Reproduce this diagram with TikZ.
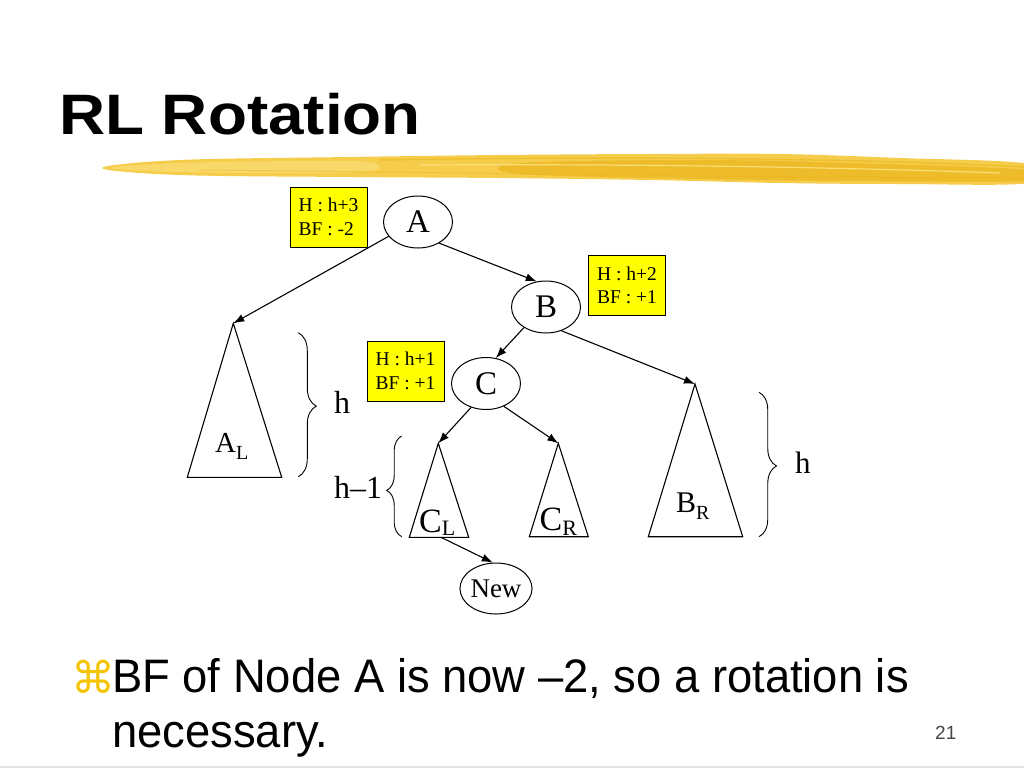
\documentclass[tikz,border=0pt]{standalone}
\usepackage{fontspec}
\setmainfont{Liberation Serif}
\newfontfamily\titlefont[FakeStretch=1.12]{Liberation Sans}
\newfontfamily\bodyfont[FakeStretch=0.965]{Liberation Sans}
\newfontfamily\pagefont{Liberation Sans}
\newfontfamily\symfont{DejaVu Sans}
\usetikzlibrary{arrows.meta,decorations.pathreplacing,shapes.geometric}

\definecolor{boxyellow}{RGB}{255,255,0}
\definecolor{brushA}{RGB}{245,205,75}
\definecolor{brushB}{RGB}{236,182,28}
\definecolor{brushC}{RGB}{250,224,125}
\definecolor{bulletgold}{RGB}{245,196,0}
\definecolor{pagegray}{RGB}{70,70,70}

\newcommand\fs[1]{\fontsize{#1}{#1}\selectfont}

\tikzset{
  tnode/.style={ellipse, draw, line width=1pt, minimum width=69pt, minimum height=52pt, inner sep=0pt, font=\fs{33}},
  infobox/.style={draw, fill=boxyellow, line width=0.9pt, minimum width=77pt, minimum height=60pt, inner sep=0pt, align=left, font=\fontsize{19.5}{23.5}\selectfont},
  arr/.style={-{Latex[length=11pt,width=8pt]}, line width=1.1pt},
  tri/.style={line width=1.1pt, line join=miter},
  hbrace/.style={decorate, line width=0.9pt},
  lbl/.style={inner sep=0pt, anchor=base west}
}

\begin{document}
\begin{tikzpicture}[x=1pt,y=-1pt]
\useasboundingbox (0,0) rectangle (1024,768);
\fill[white] (0,0) rectangle (1024,768);

% title
\node[lbl, font=\titlefont\bfseries\fs{57}] (title) at (59,134) {RL Rotation};

% brush stroke
\fill[brushA] plot[smooth cycle, tension=0.6] coordinates {
  (102,168) (180,160) (350,157) (500,155) (650,154) (780,154) (900,158) (1030,164)
  (1030,183) (900,184) (780,183) (650,180) (500,178) (350,177) (180,175) };
\fill[brushC, opacity=0.6] plot[smooth cycle, tension=0.6] coordinates {
  (110,168) (180,163) (300,161) (370,162) (372,171) (300,173) (180,172) };
\fill[brushB, opacity=0.7] plot[smooth cycle, tension=0.6] coordinates {
  (520,163) (700,160) (850,163) (1030,170) (1030,181) (850,181) (700,179) (520,174) };
\draw[brushB, opacity=0.6, line width=1.5pt] (380,160) .. controls (600,156) and (850,158) .. (1024,167);
\draw[brushB, opacity=0.5, line width=1pt] (200,170) .. controls (500,173) and (800,178) .. (1024,178);
\draw[brushC, opacity=0.9, line width=1.2pt] (420,165) .. controls (600,164) and (800,166) .. (1000,173);

% info boxes
\node[infobox] (box1) at (328.5,217) {H : h+3\\BF : -2};
\node[infobox] (box2) at (627,285.5) {H : h+2\\BF : +1};
\node[infobox] (box3) at (405.5,371) {H : h+1\\BF : +1};

% tree nodes
\node[tnode] (A) at (418,222) {A};
\node[tnode] (B) at (546,307) {B};
\node[tnode] (C) at (486,383.5) {C};
\node[tnode, minimum height=51pt, font=\fs{27}] (New) at (496,588.5) {New};

% subtree apexes and base points
\coordinate (ALtop) at (233.3,323.3);
\coordinate (BRtop) at (695,384);
\coordinate (CLtop) at (438.3,443.3);
\coordinate (CRtop) at (558.3,443.3);
\coordinate (CLbase) at (441,537.3);

% subtrees
\draw[tri] (ALtop) -- (187.3,477.3) -- (281.7,477.3) -- cycle;
\draw[tri] (CLtop) -- (409.3,537.3) -- (468.7,537.3) -- cycle;
\draw[tri] (CRtop) -- (529.3,536.7) -- (588.3,536.7) -- cycle;
\draw[tri] (BRtop) -- (648.3,536.7) -- (742.7,536.7) -- cycle;

% subtree labels
\node[lbl] (AL) at (215,452) {\fs{29}A\raisebox{-7pt}{\fs{20}L}};
\node[lbl] (CL) at (419,532) {\fs{34}C\raisebox{-3pt}{\fs{22}L}};
\node[lbl] (CR) at (539.5,530) {\fs{34}C\raisebox{-5pt}{\fs{22}R}};
\node[lbl] (BR) at (676,512) {\fs{30}B\raisebox{-7pt}{\fs{20}R}};

% edges
\draw[arr] (A.206) -- (ALtop);
\draw[arr] (A.-45) -- (B.110);
\draw[arr] (B.223) -- (C.69);
\draw[arr] (B.-57) -- (BRtop);
\draw[arr] (C.238) -- (CLtop);
\draw[arr] (C.-52) -- (CRtop);
\draw[arr] (CLbase) -- (New.97);

% braces
\draw[hbrace, decoration={brace, amplitude=18pt, aspect=0.51}] (298.3,332.7) -- (298.3,476.7);
\draw[hbrace, decoration={brace, amplitude=17.5pt, aspect=0.51}] (759,392.3) -- (759,536.7);
\draw[hbrace, decoration={brace, amplitude=15pt, aspect=0.46}] (401.7,536.7) -- (401.7,436);

\node[lbl, font=\fs{32}] (hL) at (334,413.3) {h};
\node[lbl, font=\fs{32}] (hm1) at (334,498.3) {h–1};
\node[lbl, font=\fs{31}] (hR) at (795,473.3) {h};

% bullet text
\node[lbl, text=bulletgold, font=\symfont\fs{44}] (bul) at (71,693) {⌘};
\node[lbl, font=\bodyfont\fs{47}] (line1) at (112,692) {BF of Node A is now –2, so a rotation is};
\node[lbl, font=\bodyfont\fs{47}] (line2) at (112,747) {necessary.};

% page number
\node[lbl, text=pagegray, font=\pagefont\fs{19}] (pg) at (935,739.3) {21};

% bottom rule
\fill[black!10] (0,765.5) rectangle (1024,768);
\end{tikzpicture}
\end{document}
